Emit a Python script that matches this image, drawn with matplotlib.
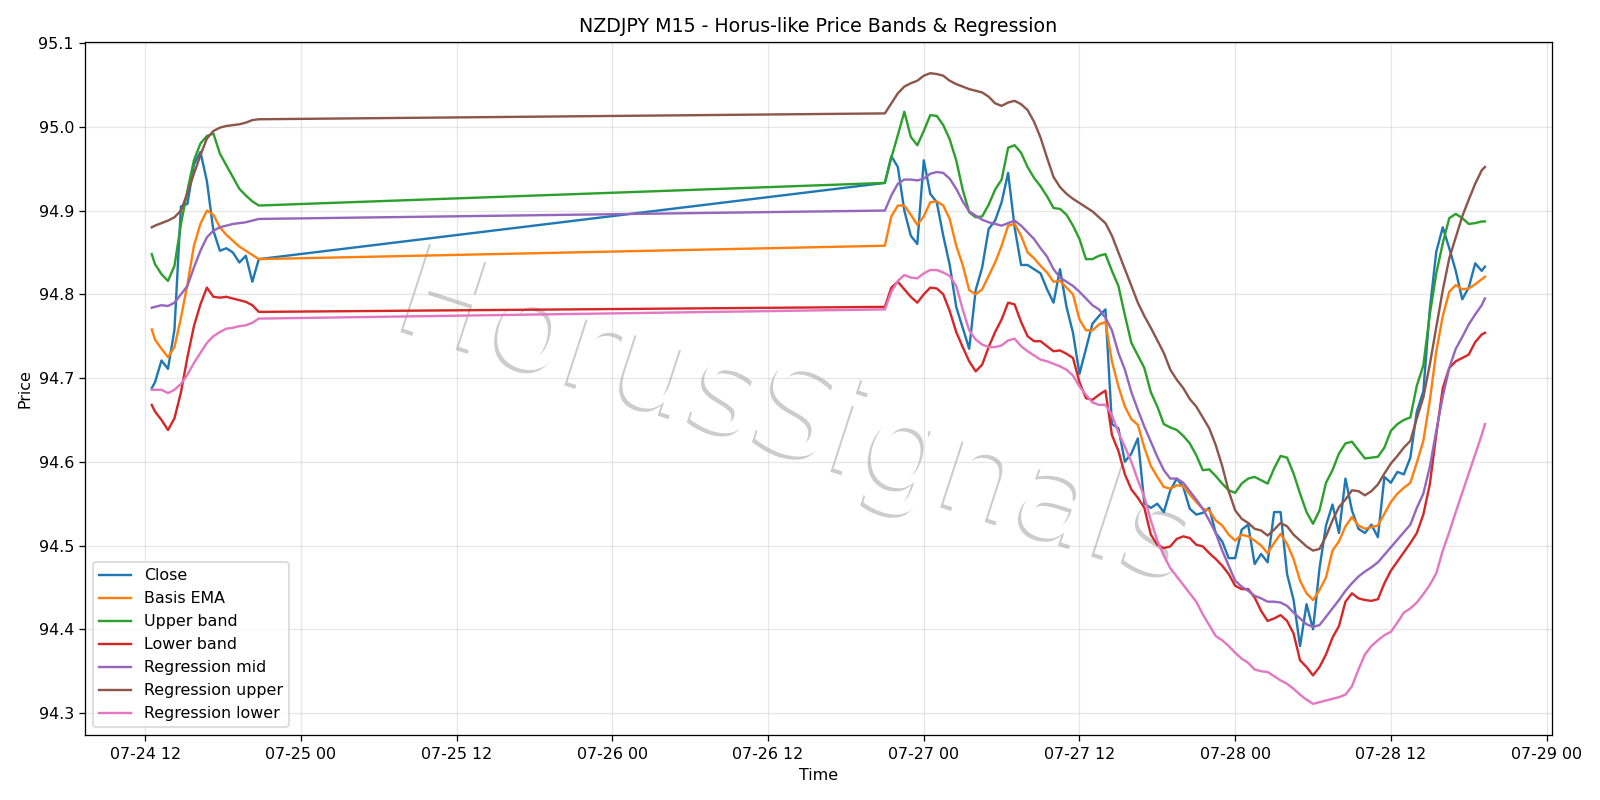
import numpy as np
import pandas as pd
import matplotlib
matplotlib.use("Agg")
import matplotlib.pyplot as plt
import matplotlib.dates as mdates
import matplotlib.patheffects as pe

# NZDJPY M15, sampled every 30 min (friday afternoon, then sunday open -> tuesday)
t1 = pd.date_range("2020-07-24 12:45", "2020-07-24 20:45", freq="30min").insert(0, pd.Timestamp("2020-07-24 12:30"))
t2 = pd.date_range("2020-07-26 21:00", "2020-07-28 19:00", freq="30min").append(pd.DatetimeIndex(["2020-07-28 19:15"]))
times = t1.append(t2)

close = [94.688, 94.695, 94.721, 94.711, 94.758, 94.905, 94.908, 94.955, 94.970, 94.935, 94.876, 94.852, 94.855, 94.850, 94.838, 94.846, 94.815, 94.842,
         94.933, 94.965, 94.952, 94.900, 94.870, 94.860,
         94.960, 94.920, 94.910, 94.870, 94.835, 94.785, 94.760, 94.735, 94.805, 94.832, 94.878, 94.888,
         94.910, 94.945, 94.880, 94.835, 94.835, 94.830, 94.825, 94.806, 94.790, 94.830, 94.785, 94.754,
         94.705, 94.735, 94.765, 94.774, 94.782, 94.645, 94.640, 94.600, 94.610, 94.628, 94.550, 94.545,
         94.550, 94.540, 94.566, 94.580, 94.570, 94.544, 94.537, 94.539, 94.545, 94.515, 94.505, 94.485,
         94.485, 94.519, 94.525, 94.478,
         94.490, 94.480, 94.540, 94.540, 94.466, 94.435, 94.380, 94.430, 94.400, 94.473, 94.524, 94.549,
         94.515, 94.580, 94.542, 94.520, 94.515, 94.525, 94.510, 94.582, 94.575, 94.588, 94.585, 94.605,
         94.660, 94.684, 94.782, 94.851, 94.880, 94.855, 94.828, 94.794, 94.808, 94.837, 94.828,
         94.833]

basis = [94.758, 94.746, 94.735, 94.725, 94.737, 94.772, 94.812, 94.858, 94.884, 94.900, 94.895, 94.880, 94.871, 94.864, 94.857, 94.852, 94.847, 94.842,
         94.858, 94.893, 94.906, 94.906, 94.895, 94.883,
         94.893, 94.910, 94.911, 94.906, 94.890, 94.858, 94.835, 94.805, 94.800, 94.806, 94.822, 94.838,
         94.858, 94.882, 94.884, 94.870, 94.850, 94.843, 94.834, 94.826, 94.815, 94.816, 94.808, 94.800,
         94.770, 94.757, 94.757, 94.764, 94.767, 94.720, 94.690, 94.666, 94.651, 94.644, 94.617, 94.595,
         94.582, 94.570, 94.568, 94.572, 94.571, 94.561, 94.552, 94.544, 94.542, 94.530, 94.524, 94.513,
         94.506, 94.513, 94.511, 94.506,
         94.500, 94.491, 94.503, 94.514, 94.502, 94.484, 94.458, 94.443, 94.435, 94.447, 94.462, 94.494,
         94.505, 94.523, 94.534, 94.524, 94.520, 94.522, 94.524, 94.538, 94.552, 94.562, 94.569, 94.575,
         94.599, 94.625, 94.673, 94.732, 94.774, 94.803, 94.811, 94.806, 94.807, 94.812, 94.818,
         94.821]

upper = [94.848, 94.836, 94.824, 94.816, 94.834, 94.884, 94.924, 94.960, 94.980, 94.989, 94.992, 94.968, 94.954, 94.940, 94.926, 94.918, 94.911, 94.906,
         94.933, 94.963, 94.990, 95.018, 94.988, 94.978,
         94.995, 95.014, 95.013, 95.002, 94.985, 94.960, 94.925, 94.898, 94.892, 94.893, 94.907, 94.925,
         94.937, 94.975, 94.978, 94.969, 94.952, 94.939, 94.929, 94.917, 94.903, 94.902, 94.895, 94.882,
         94.866, 94.842, 94.842, 94.846, 94.848, 94.828, 94.810, 94.775, 94.742, 94.727, 94.712, 94.683,
         94.666, 94.645, 94.641, 94.638, 94.631, 94.622, 94.608, 94.590, 94.591, 94.583, 94.574, 94.566,
         94.563, 94.574, 94.580, 94.582,
         94.578, 94.574, 94.592, 94.607, 94.605, 94.586, 94.562, 94.540, 94.526, 94.542, 94.575, 94.590,
         94.610, 94.622, 94.624, 94.614, 94.604, 94.605, 94.606, 94.617, 94.637, 94.645, 94.650, 94.653,
         94.691, 94.715, 94.776, 94.825, 94.861, 94.891, 94.896, 94.891, 94.884, 94.885, 94.887,
         94.887]

lower = [94.668, 94.660, 94.650, 94.638, 94.652, 94.683, 94.725, 94.762, 94.788, 94.808, 94.797, 94.796, 94.797, 94.795, 94.793, 94.791, 94.787, 94.779,
         94.785, 94.808, 94.815, 94.806, 94.797, 94.790,
         94.800, 94.808, 94.807, 94.800, 94.780, 94.755, 94.737, 94.720, 94.708, 94.716, 94.737, 94.755,
         94.770, 94.790, 94.788, 94.767, 94.750, 94.744, 94.744, 94.738, 94.732, 94.733, 94.729, 94.724,
         94.695, 94.676, 94.674, 94.680, 94.685, 94.632, 94.613, 94.585, 94.567, 94.557, 94.545, 94.513,
         94.501, 94.497, 94.499, 94.508, 94.511, 94.509, 94.501, 94.499, 94.491, 94.484, 94.476, 94.466,
         94.452, 94.448, 94.448, 94.438,
         94.422, 94.410, 94.413, 94.417, 94.410, 94.395, 94.363, 94.355, 94.345, 94.355, 94.370, 94.390,
         94.404, 94.433, 94.443, 94.437, 94.435, 94.434, 94.436, 94.455, 94.470, 94.481, 94.492, 94.503,
         94.515, 94.537, 94.573, 94.633, 94.688, 94.712, 94.720, 94.724, 94.728, 94.743, 94.752,
         94.754]

reg_mid = [94.784, 94.785, 94.787, 94.786, 94.790, 94.800, 94.810, 94.832, 94.852, 94.868, 94.876, 94.880, 94.882, 94.884, 94.885, 94.886, 94.888, 94.890,
           94.900, 94.918, 94.932, 94.937, 94.937, 94.936,
           94.938, 94.944, 94.946, 94.945, 94.938, 94.926, 94.911, 94.899, 94.894, 94.889, 94.886, 94.884,
           94.882, 94.885, 94.888, 94.882, 94.874, 94.866, 94.855, 94.845, 94.830, 94.820, 94.815, 94.810,
           94.803, 94.795, 94.787, 94.782, 94.772, 94.757, 94.730, 94.710, 94.683, 94.662, 94.642, 94.624,
           94.606, 94.590, 94.580, 94.580, 94.575, 94.565, 94.555, 94.544, 94.530, 94.515, 94.494, 94.476,
           94.458, 94.451, 94.446, 94.440,
           94.437, 94.433, 94.433, 94.432, 94.428, 94.420, 94.413, 94.406, 94.403, 94.405, 94.415, 94.425,
           94.435, 94.446, 94.455, 94.463, 94.469, 94.474, 94.480, 94.489, 94.498, 94.507, 94.516, 94.525,
           94.545, 94.562, 94.594, 94.637, 94.678, 94.712, 94.735, 94.749, 94.764, 94.776, 94.787,
           94.795]

reg_upper = [94.880, 94.882, 94.885, 94.888, 94.892, 94.900, 94.921, 94.944, 94.966, 94.986, 94.995, 94.999, 95.001, 95.002, 95.003, 95.005, 95.008, 95.009,
             95.016, 95.028, 95.040, 95.048, 95.052, 95.055,
             95.061, 95.064, 95.063, 95.061, 95.055, 95.051, 95.048, 95.045, 95.043, 95.041, 95.036, 95.028,
             95.025, 95.029, 95.031, 95.027, 95.020, 95.006, 94.987, 94.963, 94.940, 94.928, 94.920, 94.914,
             94.909, 94.904, 94.899, 94.892, 94.885, 94.870, 94.850, 94.830, 94.810, 94.790, 94.774, 94.760,
             94.745, 94.730, 94.710, 94.698, 94.688, 94.675, 94.666, 94.653, 94.640, 94.620, 94.595, 94.565,
             94.542, 94.532, 94.527, 94.520,
             94.518, 94.512, 94.519, 94.527, 94.523, 94.513, 94.506, 94.499, 94.494, 94.496, 94.511, 94.530,
             94.546, 94.555, 94.566, 94.565, 94.560, 94.565, 94.573, 94.586, 94.598, 94.607, 94.617, 94.625,
             94.652, 94.677, 94.716, 94.761, 94.805, 94.843, 94.868, 94.893, 94.913, 94.932, 94.948,
             94.952]

reg_lower = [94.686, 94.686, 94.686, 94.682, 94.686, 94.693, 94.704, 94.718, 94.730, 94.742, 94.750, 94.755, 94.759, 94.760, 94.762, 94.763, 94.766, 94.771,
             94.782, 94.803, 94.816, 94.823, 94.820, 94.819,
             94.825, 94.829, 94.829, 94.826, 94.822, 94.810, 94.782, 94.757, 94.746, 94.740, 94.737, 94.737,
             94.739, 94.745, 94.747, 94.738, 94.732, 94.727, 94.722, 94.720, 94.717, 94.714, 94.710, 94.703,
             94.690, 94.680, 94.671, 94.668, 94.668, 94.656, 94.635, 94.618, 94.600, 94.578, 94.558, 94.530,
             94.506, 94.488, 94.473, 94.463, 94.453, 94.443, 94.433, 94.418, 94.405, 94.392, 94.387, 94.380,
             94.372, 94.365, 94.360, 94.352,
             94.350, 94.349, 94.344, 94.339, 94.335, 94.329, 94.322, 94.316, 94.311, 94.313, 94.315, 94.317,
             94.319, 94.322, 94.332, 94.352, 94.370, 94.380, 94.387, 94.393, 94.397, 94.408, 94.420, 94.425,
             94.432, 94.442, 94.453, 94.467, 94.494, 94.516, 94.540, 94.563, 94.586, 94.609, 94.632,
             94.645]

series = [
    ("Close", close),
    ("Basis EMA", basis),
    ("Upper band", upper),
    ("Lower band", lower),
    ("Regression mid", reg_mid),
    ("Regression upper", reg_upper),
    ("Regression lower", reg_lower),
]

fig, ax = plt.subplots(figsize=(14, 7), dpi=800 / 7)

for name, vals in series:
    ax.plot(times, vals, label=name, linewidth=1.5)

# watermark
ax.text(0.485, 0.455, "HorusSignals", transform=ax.transAxes, fontsize=80,
        color="white", rotation=-18, ha="center", va="center", zorder=1,
        path_effects=[pe.withSimplePatchShadow(offset=(-2, -2), shadow_rgbFace="gray", alpha=0.4)])

ax.set_title("NZDJPY M15 - Horus-like Price Bands & Regression")
ax.set_xlabel("Time")
ax.set_ylabel("Price")
ax.grid(True, alpha=0.3)
ax.legend(loc="lower left")

ax.xaxis.set_major_locator(mdates.HourLocator(byhour=[0, 12]))
ax.xaxis.set_major_formatter(mdates.DateFormatter("%m-%d %H"))

fig.tight_layout()
fig.savefig("out.png")
